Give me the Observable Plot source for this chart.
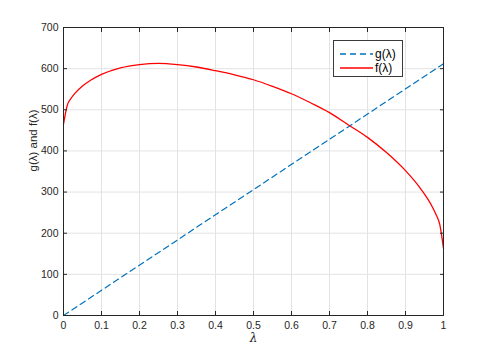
<!DOCTYPE html>
<html><head><meta charset="utf-8">
<script src="https://cdn.jsdelivr.net/npm/d3@7"></script>
<script src="https://cdn.jsdelivr.net/npm/@observablehq/plot@0.6"></script>
<style>
body{margin:0;background:#fff}
#c{position:relative;width:491px;height:354px;font-family:"Liberation Sans",Arial,sans-serif;color:#262626}
#legend{position:absolute;left:333px;top:40px;width:68px;height:35px;border:1px solid #3a3a3a;background:#fff;box-sizing:content-box}
.row{position:absolute;left:6px;height:14px;display:flex;align-items:center;font-size:12px;color:#000}
.row svg{margin-right:2px}
</style></head><body><div id="c"><div id="legend"></div></div>
<script>
// f(λ) curve
const lambdaF = [0, 0.01, 0.02, 0.03, 0.05, 0.07, 0.1, 0.15, 0.2, 0.25, 0.3, 0.35, 0.4, 0.45, 0.5, 0.55, 0.6, 0.65, 0.7, 0.75, 0.8, 0.85, 0.9, 0.94, 0.97, 0.98, 0.99, 1];
const fValues = [465, 511, 528, 540, 558, 571, 586, 602, 610, 613, 610, 604, 595, 585, 573, 557, 539, 517, 493, 463, 433, 396, 352, 308, 265, 246, 222, 163];
// g(λ) straight dashed line
const lambdaG = [0, 1];
const gValues = [0, 612];
const xTicks = [0, 0.1, 0.2, 0.3, 0.4, 0.5, 0.6, 0.7, 0.8, 0.9, 1];
const xTickLabels = ["0", "0.1", "0.2", "0.3", "0.4", "0.5", "0.6", "0.7", "0.8", "0.9", "1"];
const yTicks = [0, 100, 200, 300, 400, 500, 600, 700];
const seriesNames = ["g(λ)", "f(λ)"];
const seriesColors = ["#0072BD", "#FF0000"];
const xLabel = "λ";
const yLabel = "g(λ) and f(λ)";

const fData = lambdaF.map((x, i) => ({x, y: fValues[i]}));
const gData = lambdaG.map((x, i) => ({x, y: gValues[i]}));
const axisColor = "#262626";
const gridColor = "#e3e3e3";
const blank = () => "";

const chart = Plot.plot({
  width: 491, height: 354,
  marginLeft: 63, marginRight: 48, marginTop: 27, marginBottom: 39,
  style: {fontFamily: '"Liberation Sans", Arial, sans-serif', fontSize: "10.5px", color: axisColor, background: "#fff", overflow: "visible"},
  x: {domain: [0, 1]},
  y: {domain: [0, 700]},
  marks: [
    Plot.gridX(xTicks, {stroke: gridColor, strokeOpacity: 1}),
    Plot.gridY(yTicks, {stroke: gridColor, strokeOpacity: 1}),
    Plot.line(gData, {x: "x", y: "y", stroke: seriesColors[0], strokeWidth: 1.2, strokeDasharray: "6,4"}),
    Plot.line(fData, {x: "x", y: "y", stroke: seriesColors[1], strokeWidth: 1.3, curve: "monotone-x"}),
    Plot.frame({stroke: axisColor, strokeWidth: 1}),
    // tick labels
    Plot.axisX(xTicks, {anchor: "bottom", tickSize: 0, tickPadding: 6, tickFormat: d => xTickLabels[xTicks.indexOf(d)], label: null}),
    Plot.axisY(yTicks, {anchor: "left", tickSize: 0, tickPadding: 5, tickFormat: d => String(d), label: null}),
    // inward tick marks on all four sides
    Plot.axisX(xTicks, {anchor: "bottom", tickSize: -4, tickFormat: blank, label: null, stroke: axisColor}),
    Plot.axisX(xTicks, {anchor: "top", tickSize: -4, tickFormat: blank, label: null, stroke: axisColor}),
    Plot.axisY(yTicks, {anchor: "left", tickSize: -4, tickFormat: blank, label: null, stroke: axisColor}),
    Plot.axisY(yTicks, {anchor: "right", tickSize: -4, tickFormat: blank, label: null, stroke: axisColor}),
    Plot.text([xLabel], {frameAnchor: "bottom", dy: 26, fontFamily: '"DejaVu Serif", "Liberation Serif", serif', fontStyle: "italic", fontSize: 12, fill: axisColor}),
    Plot.text([yLabel], {frameAnchor: "left", dx: -30, rotate: -90, fontSize: 11.5, fill: axisColor})
  ]
});
document.getElementById("c").prepend(chart);

const legend = document.getElementById("legend");
seriesNames.forEach((name, i) => {
  const row = document.createElement("div");
  row.className = "row";
  row.style.top = (i === 0 ? 5.5 : 20) + "px";
  row.innerHTML = `<svg width="33" height="4"><line x1="0" y1="2" x2="33" y2="2" stroke="${seriesColors[i]}" stroke-width="1.3" ${i === 0 ? 'stroke-dasharray="6,4"' : ''}/></svg><span>${name}</span>`;
  legend.appendChild(row);
});
</script>
</body></html>
